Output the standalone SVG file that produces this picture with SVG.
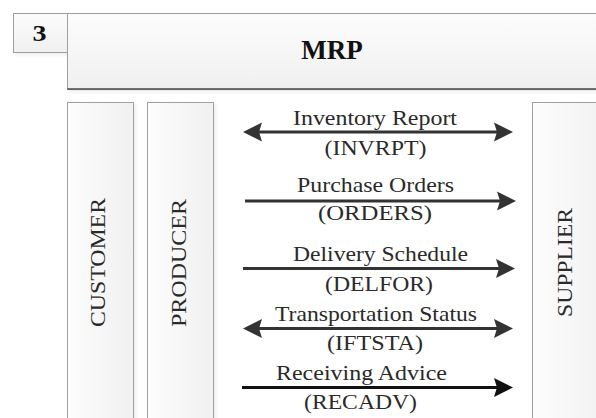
<svg xmlns="http://www.w3.org/2000/svg" width="596" height="418" viewBox="0 0 596 418">
  <defs>
    <linearGradient id="fillV" x1="0" y1="0" x2="0" y2="1">
      <stop offset="0" stop-color="#fcfcfc"/>
      <stop offset="1" stop-color="#f0f0f0"/>
    </linearGradient>
    <linearGradient id="fillH" x1="0" y1="0" x2="1" y2="0">
      <stop offset="0" stop-color="#fdfdfd"/>
      <stop offset="1" stop-color="#f0f0f0"/>
    </linearGradient>
    <filter id="shadow" x="-10%" y="-10%" width="130%" height="130%">
      <feDropShadow dx="2" dy="2" stdDeviation="1.5" flood-color="#000" flood-opacity="0.07"/>
    </filter>
    <marker id="head" viewBox="0 0 20 20" refX="9" refY="10" markerWidth="20" markerHeight="20" markerUnits="userSpaceOnUse" orient="auto-start-reverse">
      <path d="M0,0.5 L19,10 L0,19.5 L3,10 Z" fill="#333"/>
    </marker>
    <marker id="headDark" viewBox="0 0 20 20" refX="9" refY="10" markerWidth="20" markerHeight="20" markerUnits="userSpaceOnUse" orient="auto-start-reverse">
      <path d="M0,0.5 L19,10 L0,19.5 L3,10 Z" fill="#111"/>
    </marker>
  </defs>
  <style>
    .box { stroke: #a0a0a0; stroke-width: 1; filter: url(#shadow); }
    .title { font-family: "Liberation Serif", "Times New Roman", serif; font-weight: bold; fill: #111; text-anchor: middle; }
    .lbl { font-family: "Liberation Serif", "Times New Roman", serif; font-size: 21px; fill: #2a2a2a; text-anchor: middle; }
    .conn { stroke: #333; stroke-width: 3; fill: none; }
    .conn.dark { stroke: #111; }
  </style>

  <rect width="596" height="418" fill="#ffffff"/>

  <!-- step number -->
  <g id="step">
    <rect class="box" x="13.5" y="13.5" width="54" height="39" fill="url(#fillV)"/>
    <text class="title" x="39.5" y="40.5" font-size="23" textLength="14" lengthAdjust="spacingAndGlyphs">3</text>
  </g>

  <!-- MRP banner -->
  <g id="mrp">
    <rect class="box" x="67.5" y="13.5" width="540" height="76" fill="url(#fillV)"/>
    <line x1="67.5" y1="89" x2="596" y2="89" stroke="#4a4a4a" stroke-width="1.5"/>
    <text class="title" x="332" y="59" font-size="27">MRP</text>
  </g>

  <!-- swimlanes -->
  <g id="customer">
    <rect class="box" x="67.5" y="102.5" width="66" height="330" fill="url(#fillH)"/>
    <text class="lbl" transform="translate(105,262.5) rotate(-90)" textLength="129" lengthAdjust="spacingAndGlyphs">CUSTOMER</text>
  </g>
  <g id="producer">
    <rect class="box" x="147.5" y="102.5" width="66" height="330" fill="url(#fillH)"/>
    <text class="lbl" transform="translate(186,263) rotate(-90)" textLength="128" lengthAdjust="spacingAndGlyphs">PRODUCER</text>
  </g>
  <g id="supplier">
    <rect class="box" x="532.5" y="102.5" width="80" height="330" fill="url(#fillH)"/>
    <text class="lbl" transform="translate(571.5,262.5) rotate(-90)" textLength="109" lengthAdjust="spacingAndGlyphs">SUPPLIER</text>
  </g>

  <!-- message flows -->
  <g id="connectors">
    <line class="conn" x1="253" y1="132" x2="503" y2="132" marker-start="url(#head)" marker-end="url(#head)"/>
    <line class="conn" x1="245" y1="201" x2="506" y2="201" marker-end="url(#head)"/>
    <line class="conn" x1="243" y1="268.5" x2="505" y2="268.5" marker-end="url(#head)"/>
    <line class="conn" x1="253" y1="328.5" x2="503" y2="328.5" marker-start="url(#head)" marker-end="url(#head)"/>
    <line class="conn dark" x1="242" y1="387.5" x2="503" y2="387.5" marker-end="url(#headDark)"/>
  </g>

  <!-- flow labels -->
  <g id="labels">
    <text class="lbl" x="375" y="125" textLength="164" lengthAdjust="spacingAndGlyphs">Inventory Report</text>
    <text class="lbl" x="375.5" y="155" textLength="102" lengthAdjust="spacingAndGlyphs">(INVRPT)</text>
    <text class="lbl" x="375.5" y="191.5" textLength="157" lengthAdjust="spacingAndGlyphs">Purchase Orders</text>
    <text class="lbl" x="375" y="220" textLength="114" lengthAdjust="spacingAndGlyphs">(ORDERS)</text>
    <text class="lbl" x="380.5" y="260.5" textLength="175" lengthAdjust="spacingAndGlyphs">Delivery Schedule</text>
    <text class="lbl" x="379" y="290.5" textLength="108" lengthAdjust="spacingAndGlyphs">(DELFOR)</text>
    <text class="lbl" x="376" y="320.5" textLength="202" lengthAdjust="spacingAndGlyphs">Transportation Status</text>
    <text class="lbl" x="375" y="350" textLength="96" lengthAdjust="spacingAndGlyphs">(IFTSTA)</text>
    <text class="lbl" x="361.5" y="380" textLength="171" lengthAdjust="spacingAndGlyphs">Receiving Advice</text>
    <text class="lbl" x="360.5" y="409" textLength="113" lengthAdjust="spacingAndGlyphs">(RECADV)</text>
  </g>
</svg>
